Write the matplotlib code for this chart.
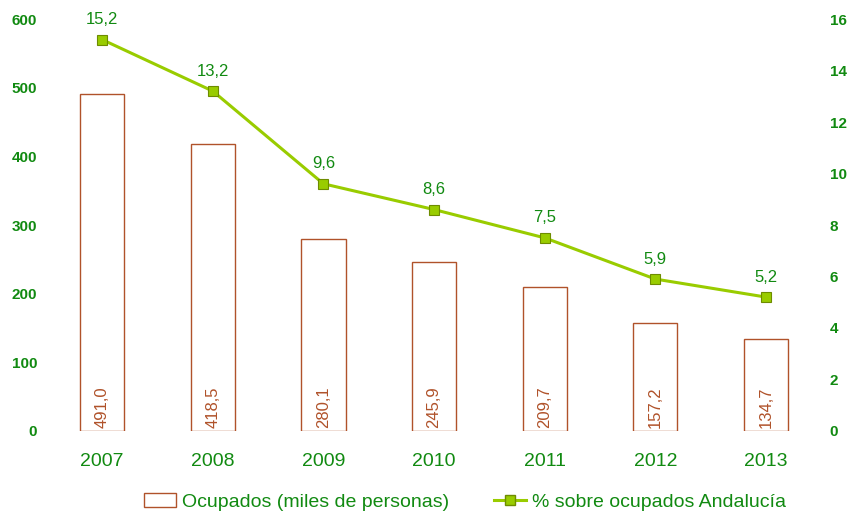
import numpy as np
import matplotlib.pyplot as plt
from matplotlib.patches import Patch
from matplotlib.lines import Line2D

plt.rcParams['font.family'] = ['Liberation Sans', 'DejaVu Sans']

years = ["2007", "2008", "2009", "2010", "2011", "2012", "2013"]
ocupados = [491.0, 418.5, 280.1, 245.9, 209.7, 157.2, 134.7]
porcentaje = [15.2, 13.2, 9.6, 8.6, 7.5, 5.9, 5.2]

GREEN = "#118a11"
BROWN = "#b0522a"
LIME = "#99cc00"

def fmt(v):
    return f"{v:.1f}".replace(".", ",")

fig = plt.figure(figsize=(8.52, 5.14), dpi=100)
ax = fig.add_axes([0.055, 0.1615, 0.909, 0.8015])
ax2 = ax.twinx()

x = np.arange(len(years))
ax.bar(x, ocupados, width=0.4, facecolor="white", edgecolor=BROWN, linewidth=1.0)
for xi, v in zip(x, ocupados):
    ax.text(xi, 5, fmt(v), rotation=90, ha="center", va="bottom",
            color=BROWN, fontsize=12)

ax.set_xlim(-0.5, len(years) - 0.5)
ax.set_ylim(0, 600)
ax.set_yticks(range(0, 601, 100))
ax.set_xticks(x)
ax.set_xticklabels(years)

ax2.plot(x, porcentaje, color=LIME, linewidth=2.2, marker="s", markersize=7.5,
         markerfacecolor=LIME, markeredgecolor="#6e8c00", markeredgewidth=0.8)
for xi, v in zip(x, porcentaje):
    ax2.annotate(fmt(v), (xi, v), xytext=(0, 9), textcoords="offset points",
                 ha="center", va="bottom", color=GREEN, fontsize=12)
ax2.set_ylim(0, 16)
ax2.set_yticks(range(0, 17, 2))

for a in (ax, ax2):
    for s in a.spines.values():
        s.set_visible(False)
ax.tick_params(axis="y", length=0, pad=7, labelcolor=GREEN, labelsize=11)
ax.tick_params(axis="x", length=0, pad=16, labelcolor=GREEN, labelsize=14)
ax2.tick_params(axis="y", length=0, pad=6, labelcolor=GREEN, labelsize=11)
for lab in ax.get_yticklabels() + ax2.get_yticklabels():
    lab.set_fontweight("bold")

handles = [
    Patch(facecolor="white", edgecolor=BROWN, linewidth=1.0),
    Line2D([0], [0], color=LIME, linewidth=2.2, marker="s", markersize=7,
           markerfacecolor=LIME, markeredgecolor="#6e8c00"),
]
labels = ["Ocupados (miles de personas)", "% sobre ocupados Andalucía"]
leg = fig.legend(handles, labels, loc="center", bbox_to_anchor=(0.546, 0.023),
                 ncol=2, frameon=False, fontsize=14, columnspacing=2.3,
                 handlelength=1.65, handletextpad=0.3)
for t in leg.get_texts():
    t.set_color(GREEN)

fig.savefig("out.png", dpi=100)
